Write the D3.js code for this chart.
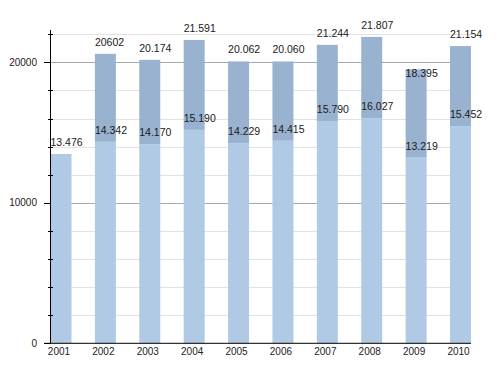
<!DOCTYPE html>
<html>
<head>
<meta charset="utf-8">
<script src="https://cdn.jsdelivr.net/npm/d3@7"></script>
<style>
  html, body { margin: 0; padding: 0; background: #fff; }
  svg { display: block; }
</style>
</head>
<body>
<svg id="chart" width="500" height="373"></svg>
<script>
// values
const years = ['2001', '2002', '2003', '2004', '2005', '2006', '2007', '2008', '2009', '2010'];
const lowerValues = [13476, 14342, 14170, 15190, 14229, 14415, 15790, 16027, 13219, 15452];
// 2001 has only one part; 2009 bar is drawn taller than its label says
const totalValues = [null, 20602, 20174, 21591, 20062, 20060, 21244, 21807, 19500, 21154];
const lowerLabels = ['13.476', '14.342', '14.170', '15.190', '14.229', '14.415', '15.790', '16.027', '13.219', '15.452'];
const totalLabels = ['', '20602', '20.174', '21.591', '20.062', '20.060', '21.244', '21.807', '18.395', '21.154'];
const majorTicks = [0, 10000, 20000];
const minorTicks = [2000, 4000, 6000, 8000, 12000, 14000, 16000, 18000, 22000];

const svg = d3.select('#chart');
const font = '"Liberation Sans", Arial, Helvetica, sans-serif';

const plotLeft = 50.5, plotRight = 471, plotTop = 34.2, plotBottom = 343.3;

const x = d3.scaleBand()
    .domain(years)
    .range([plotLeft, plotRight])
    .paddingInner(0.527)
    .paddingOuter(0);

const y = d3.scaleLinear()
    .domain([0, 22000])
    .range([plotBottom, plotTop]);

const labelNum = s => +s.replace('.', '');
const py = d => Math.round(y(d)) + 0.5;

// grid lines
svg.append('g').selectAll('line')
  .data(minorTicks)
  .enter().append('line')
    .attr('x1', plotLeft).attr('x2', plotRight)
    .attr('y1', py).attr('y2', py)
    .attr('stroke', '#e2e2e2');

svg.append('g').selectAll('line')
  .data(majorTicks.filter(d => d > 0))
  .enter().append('line')
    .attr('x1', plotLeft).attr('x2', plotRight)
    .attr('y1', py).attr('y2', py)
    .attr('stroke', '#a9a9a9');

// lower part of bars
svg.append('g').selectAll('rect')
  .data(years)
  .enter().append('rect')
    .attr('x', d => x(d))
    .attr('y', (d, i) => y(lowerValues[i]))
    .attr('width', x.bandwidth())
    .attr('height', (d, i) => y(0) - y(lowerValues[i]))
    .attr('fill', '#b0c9e5');

// upper part
svg.append('g').selectAll('rect')
  .data(years.filter((d, i) => totalValues[i] != null))
  .enter().append('rect')
    .attr('x', d => x(d))
    .attr('y', d => y(totalValues[years.indexOf(d)]))
    .attr('width', x.bandwidth())
    .attr('height', d => {
      const i = years.indexOf(d);
      return y(lowerValues[i]) - y(totalValues[i]);
    })
    .attr('fill', '#99b2cf');

// y axis
svg.append('line')
  .attr('x1', plotLeft).attr('x2', plotLeft)
  .attr('y1', 30).attr('y2', plotBottom)
  .attr('stroke', '#000');

svg.append('g').selectAll('line')
  .data(majorTicks)
  .enter().append('line')
    .attr('x1', 44).attr('x2', plotLeft)
    .attr('y1', py).attr('y2', py)
    .attr('stroke', '#000');

svg.append('g').selectAll('line')
  .data(minorTicks)
  .enter().append('line')
    .attr('x1', 48).attr('x2', 53)
    .attr('y1', py).attr('y2', py)
    .attr('stroke', '#000');

svg.append('g').selectAll('text')
  .data(majorTicks)
  .enter().append('text')
    .attr('x', 37)
    .attr('y', d => y(d) + 3.5)
    .attr('text-anchor', 'end')
    .attr('font-family', font)
    .attr('font-size', '10px')
    .attr('fill', '#222')
    .text(d => d);

// x axis
svg.append('line')
  .attr('x1', 45).attr('x2', plotRight)
  .attr('y1', plotBottom).attr('y2', plotBottom)
  .attr('stroke', '#000');

svg.append('g').selectAll('text')
  .data(years)
  .enter().append('text')
    .attr('x', d => x(d) + x.bandwidth() / 2 - 2)
    .attr('y', 354.5)
    .attr('text-anchor', 'middle')
    .attr('font-family', font)
    .attr('font-size', '10px')
    .attr('fill', '#222')
    .text(d => d);

// value labels
svg.append('g').selectAll('text')
  .data(years)
  .enter().append('text')
    .attr('x', d => x(d))
    .attr('y', (d, i) => y(labelNum(lowerLabels[i])) - 8)
    .attr('font-family', font)
    .attr('font-size', '10.5px')
    .attr('fill', '#1a1a1a')
    .text((d, i) => lowerLabels[i]);

svg.append('g').selectAll('text')
  .data(years.filter((d, i) => totalLabels[i] !== ''))
  .enter().append('text')
    .attr('x', d => x(d))
    .attr('y', d => y(labelNum(totalLabels[years.indexOf(d)])) - 8)
    .attr('font-family', font)
    .attr('font-size', '10.5px')
    .attr('fill', '#1a1a1a')
    .text(d => totalLabels[years.indexOf(d)]);
</script>
</body>
</html>
